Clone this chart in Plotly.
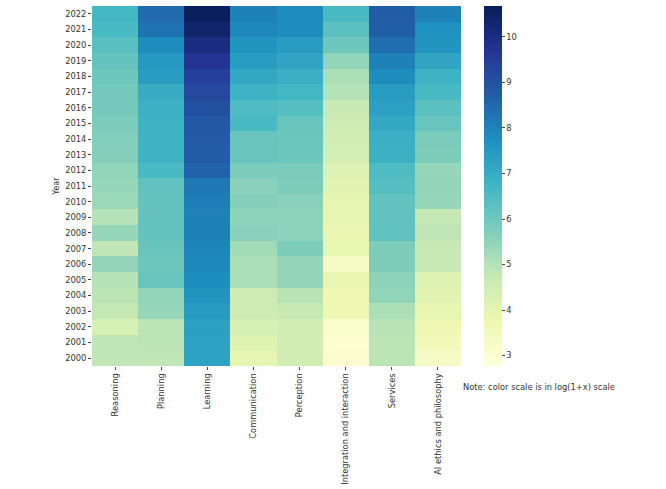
import plotly.graph_objects as go

categories = ['Reasoning', 'Planning', 'Learning', 'Communication', 'Perception',
              'Integration and interaction', 'Services', 'AI ethics and philosophy']
years = list(range(2000, 2023))

# log(1+x) values, rows 2000..2022
reasoning = [4.85, 4.85, 4.35, 4.8, 4.9, 5.0, 5.45, 4.85, 5.4, 5.0, 5.35, 5.4, 5.5, 5.65,
             5.7, 5.8, 5.9, 5.9, 6.0, 6.15, 6.35, 6.6, 6.7]
planning = [4.85, 4.9, 4.9, 5.4, 5.5, 6.1, 6.0, 6.1, 6.15, 6.15, 6.15, 6.2, 6.6, 6.8,
            6.8, 6.8, 6.85, 7.0, 7.4, 7.5, 7.8, 8.3, 8.45]
learning = [7.25, 7.25, 7.3, 7.45, 7.6, 7.75, 7.9, 7.95, 8.0, 8.0, 8.1, 8.2, 8.6, 8.75,
            8.8, 8.85, 9.0, 9.2, 9.4, 9.7, 10.0, 10.4, 10.6]
communication = [3.95, 4.15, 4.35, 4.6, 4.6, 5.15, 5.15, 5.25, 5.6, 5.55, 5.65, 5.6, 5.8,
                 6.1, 6.1, 6.6, 6.5, 6.8, 7.1, 7.4, 7.6, 7.9, 8.0]
perception = [4.5, 4.45, 4.5, 4.75, 4.95, 5.45, 5.45, 5.75, 5.55, 5.55, 5.6, 5.75, 5.8,
              6.0, 6.05, 6.1, 6.4, 6.7, 6.9, 7.2, 7.4, 7.8, 7.8]
integration = [3.0, 2.95, 3.1, 3.7, 3.7, 3.8, 3.3, 3.85, 3.8, 3.95, 3.95, 4.05, 4.2, 4.4,
               4.5, 4.6, 4.7, 5.0, 5.1, 5.5, 6.0, 6.3, 6.6]
services = [4.9, 4.9, 4.95, 5.1, 5.5, 5.55, 5.75, 5.75, 6.2, 6.2, 6.2, 6.4, 6.5, 6.85,
            6.9, 7.1, 7.3, 7.4, 7.8, 8.0, 8.4, 8.7, 8.75]
ethics = [3.3, 3.6, 3.7, 3.9, 4.1, 4.2, 4.75, 4.75, 4.85, 4.8, 5.4, 5.45, 5.4, 5.75,
          5.8, 6.1, 6.3, 6.6, 6.8, 7.2, 7.6, 7.7, 8.0]

columns = [reasoning, planning, learning, communication, perception, integration, services, ethics]
z = [[col[i] for col in columns] for i in range(len(years))]

# matplotlib YlGnBu
ylgnbu = [
    [0.0, '#ffffd9'], [0.125, '#edf8b1'], [0.25, '#c7e9b4'], [0.375, '#7fcdbb'],
    [0.5, '#41b6c4'], [0.625, '#1d91c0'], [0.75, '#225ea8'], [0.875, '#253494'],
    [1.0, '#081d58'],
]

fs = 8.3

fig = go.Figure(go.Heatmap(
    z=z, x=categories, y=[str(y) for y in years],
    colorscale=ylgnbu, zmin=2.77, zmax=10.68,
    colorbar=dict(
        x=1.062, xanchor='left', xpad=0, y=0.5, yanchor='middle',
        len=1, lenmode='fraction', thickness=18, ypad=0,
        outlinewidth=0, tickvals=[3, 4, 5, 6, 7, 8, 9, 10],
        ticks='outside', ticklen=3, tickcolor='#444',
        tickfont=dict(size=fs, color='#333'),
    ),
    hovertemplate='%{x}<br>%{y}: %{z:.2f}<extra></extra>',
))

fig.update_layout(
    width=666, height=489,
    margin=dict(l=92, r=205, t=6, b=123),
    plot_bgcolor='white', paper_bgcolor='white',
    font=dict(family='DejaVu Sans', size=fs, color='#333'),
    xaxis=dict(tickangle=-90, ticks='outside', ticklen=3, tickcolor='#444',
               showgrid=False, zeroline=False, automargin=False,
               tickfont=dict(size=fs)),
    yaxis=dict(title=dict(text='Year', font=dict(size=fs), standoff=4),
               ticks='outside', ticklen=3, tickcolor='#444',
               showgrid=False, zeroline=False, automargin=False,
               tickfont=dict(size=fs)),
)

fig.add_annotation(
    text='Note: color scale is in log(1+x) scale',
    xref='paper', yref='paper', x=1.0, y=-0.058,
    xanchor='left', yanchor='middle', showarrow=False,
    font=dict(size=fs, color='#333'),
)

# drop the default page margin so the figure sits at the window's corner
fig.write_html('out.html', config={'displayModeBar': False},
               post_script="document.body.style.margin='0';")
